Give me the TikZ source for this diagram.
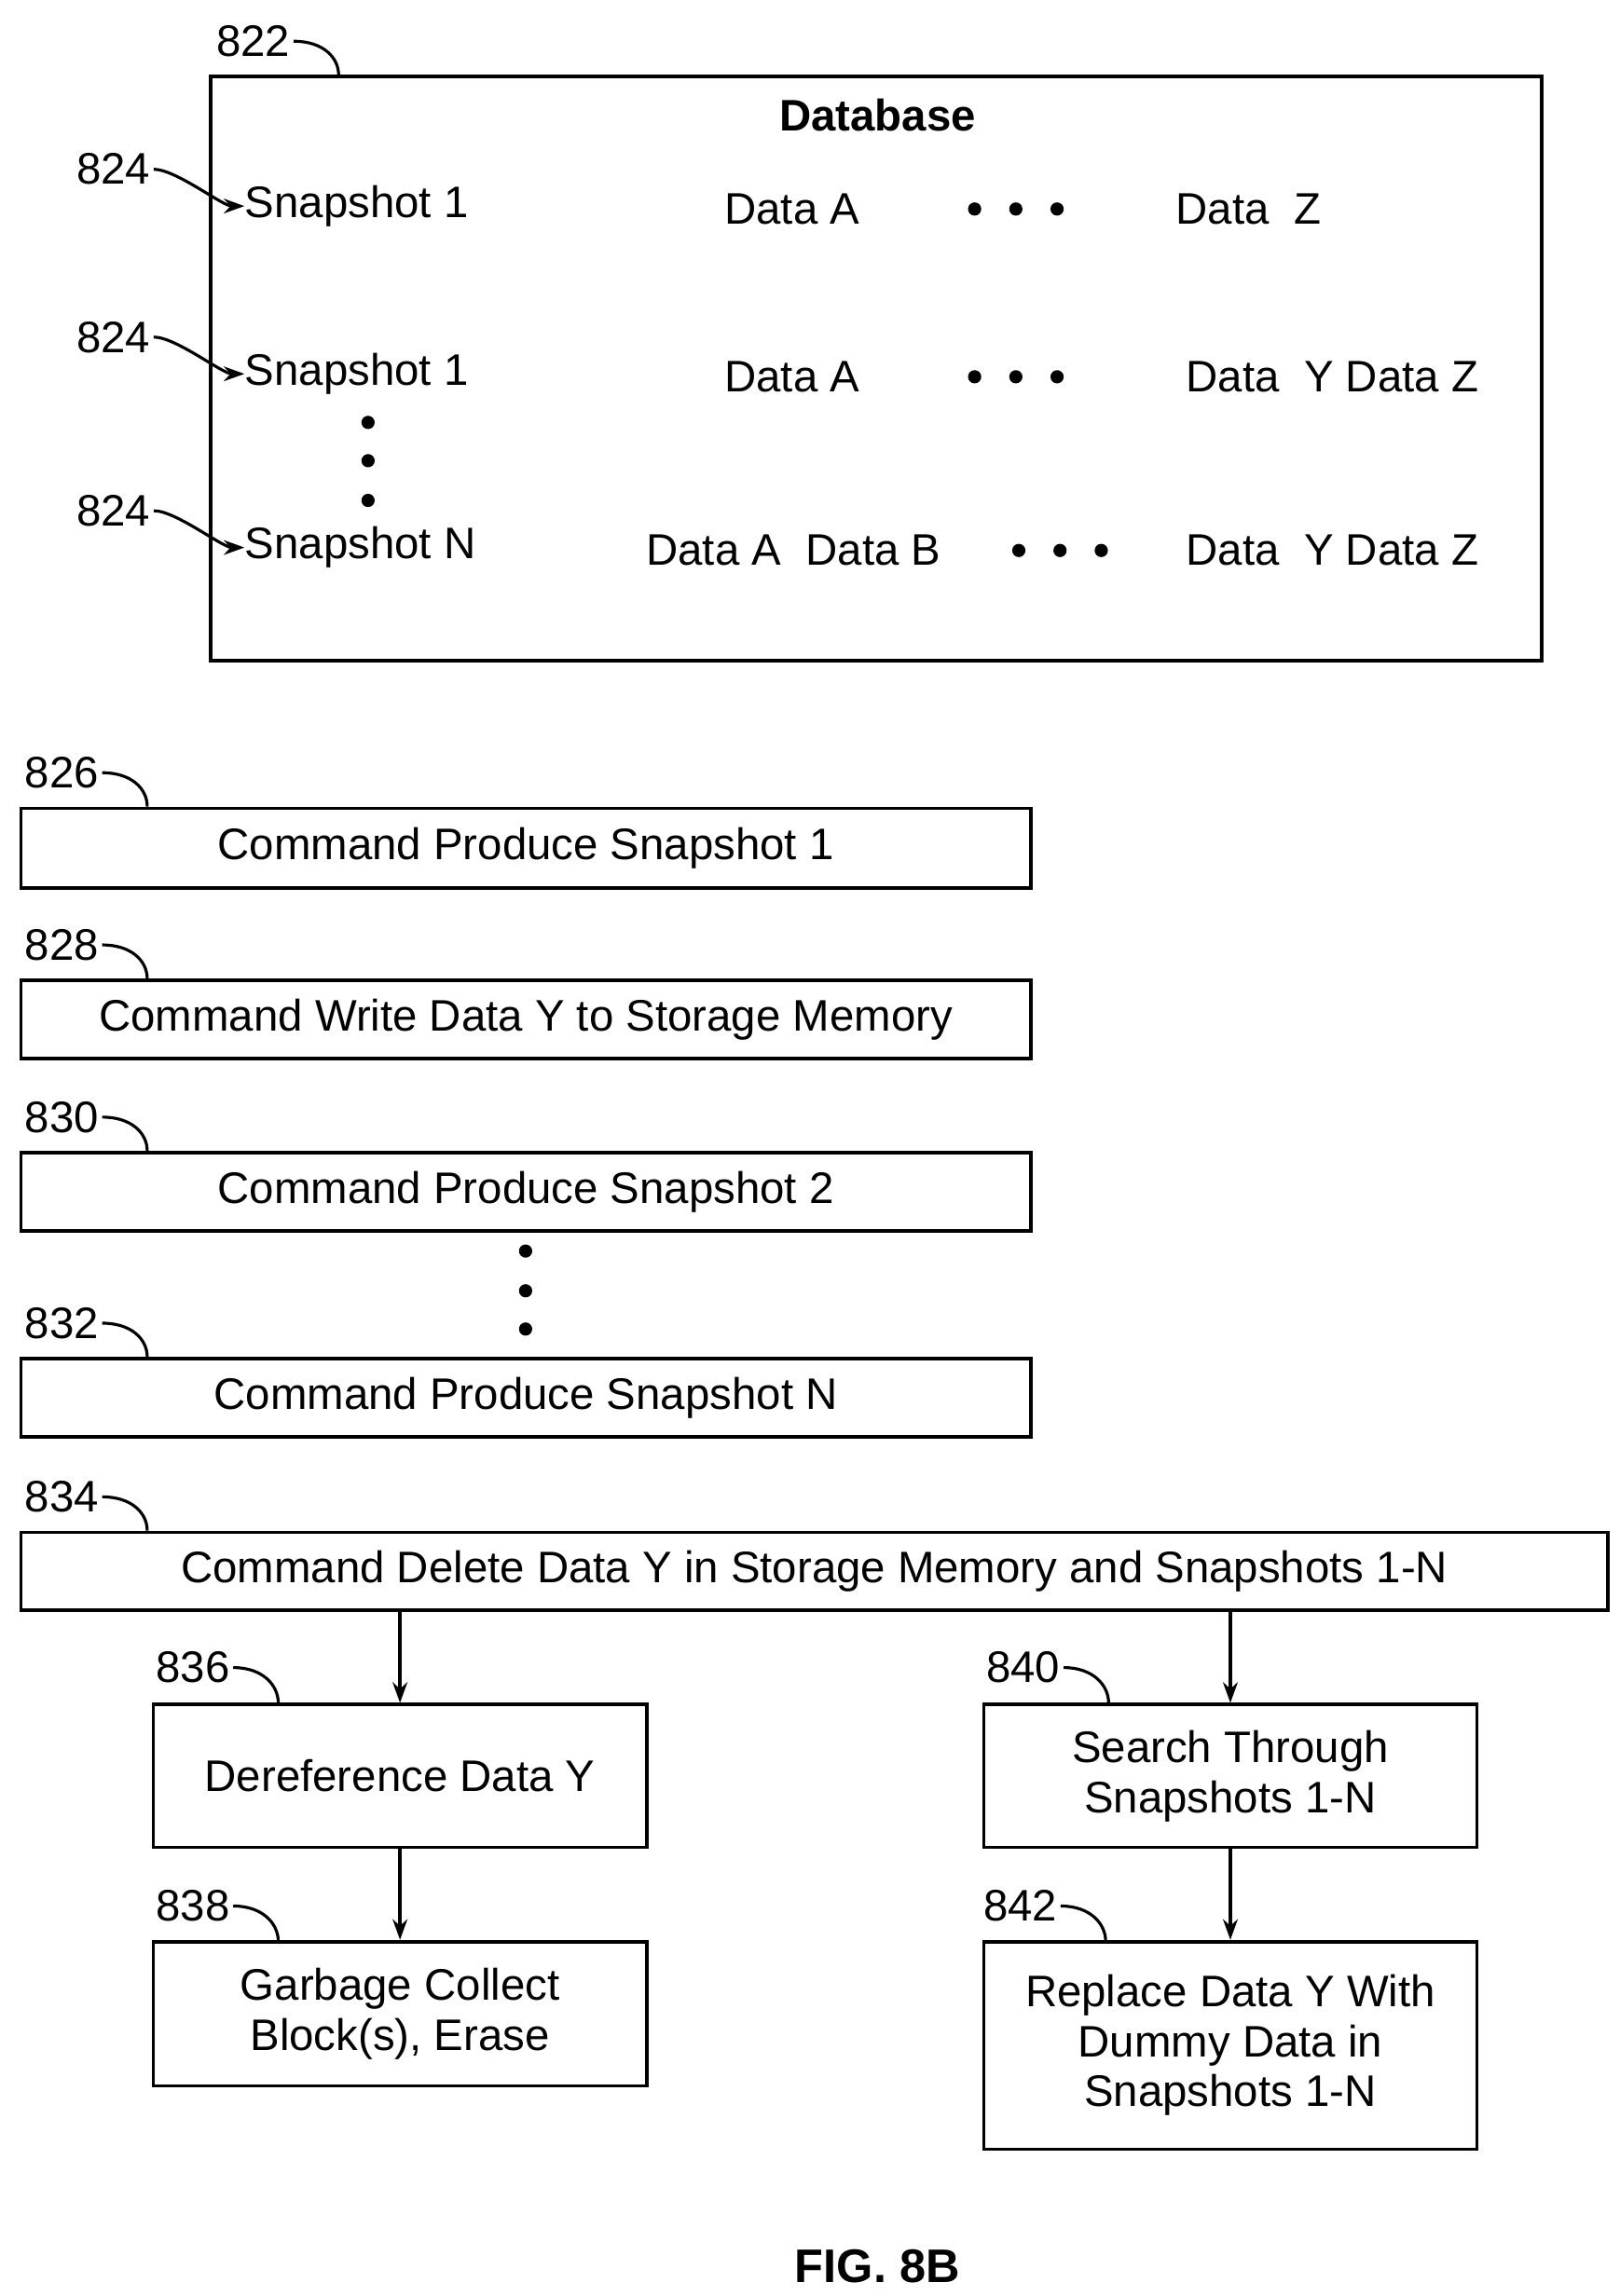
\documentclass[tikz,border=0pt]{standalone}
\usepackage{fontspec}
\usetikzlibrary{arrows.meta}
\setmainfont{Liberation Sans}
\begin{document}
\begin{tikzpicture}[x=0.5pt,y=-0.5pt,
  txt/.style={font=\fontsize{15}{16}\selectfont,inner sep=0pt},
  lbl/.style={font=\fontsize{15}{16}\selectfont,inner sep=1pt},
  box/.style={draw,line width=1.2pt},
  arr/.style={draw,line width=1.1pt,-{Stealth[length=7pt,width=5pt]}},
  hook/.style={draw,line width=1pt},
  dot/.style={fill,circle,inner sep=0pt,minimum size=4.5pt}]
\useasboundingbox (0,0) rectangle (1100,1560);
% database
\draw[box] (143,52) rectangle (1047,449);
\node[txt,font=\fontsize{15}{16}\selectfont\bfseries] (db) at (596,78) {Database};
\node[lbl] (l822) at (172,28) {822};
\coordinate (c822) at (230,51);
\draw[hook] (l822.east) .. controls +(20,0) and +(0,-12) .. (c822);
\foreach \i/\y/\s in {1/140/Snapshot 1,2/254/Snapshot 1,3/372/Snapshot N}{
  \node[txt,anchor=west] (s\i) at (166,\y) {\s};
  \node[lbl] (l824\i) at (77,\y-25) {824};
  \draw[hook,-{Stealth[length=7pt,width=5pt]}] (l824\i.east) .. controls +(15,0) and +(-15,0) .. (s\i.west);
}
\node[txt] (a1) at (538,142) {Data A};
\node[txt] (z1) at (848,142) {Data\ \ Z};
\node[txt] (a2) at (538,256) {Data A};
\node[txt] (yz2) at (905,256) {Data\ \ Y\ Data Z};
\node[txt] (ab3) at (539,374) {Data A\ \ Data B};
\node[txt] (yz3) at (905,374) {Data\ \ Y\ Data Z};
\foreach \x/\y in {662/142,690/142,718/142,662/256,690/256,718/256,692/374,720/374,748/374,250/287,250/313,250/340,357/850,357/877,357/903}
  \node[dot] at (\x,\y) {};
% command boxes
\foreach \n/\t/\b/\s in {826/548/602/Command Produce Snapshot 1,828/665/718/Command Write Data Y to Storage Memory,830/782/835/Command Produce Snapshot 2,832/922/975/Command Produce Snapshot N}{
  \node[box,txt,minimum width=343pt,minimum height={(\b-\t)*0.5pt},anchor=north west] (b\n) at (13,\t) {\s};
  \node[lbl] (l\n) at (42,\t-23) {\n};
  \draw[hook] (l\n.east) .. controls +(20,0) and +(0,-12) .. (100,\t);
}
\node[box,txt,minimum width=539pt,minimum height=26.5pt,anchor=north west] (b834) at (13,1040) {Command Delete Data Y in Storage Memory and Snapshots 1-N};
\node[lbl] (l834) at (42,1017) {834};
\draw[hook] (l834.east) .. controls +(20,0) and +(0,-12) .. (100,1040);
% lower boxes
\tikzset{sb/.style={box,txt,minimum width=167.5pt,align=center,anchor=north west,font=\fontsize{15}{17}\selectfont}}
\node[sb,minimum height=48.5pt] (b836) at (103,1157) {Dereference Data Y};
\node[sb,minimum height=49pt] (b838) at (103,1318) {Garbage Collect\\Block(s), Erase};
\node[sb,minimum height=48.5pt] (b840) at (667,1157) {Search Through\\Snapshots 1-N};
\node[sb,minimum height=70.5pt] (b842) at (667,1318) {Replace Data Y With\\Dummy Data in\\Snapshots 1-N};
\foreach \n/\x/\y in {836/131/1133,838/131/1295,840/695/1133,842/693/1295}{
  \node[lbl] (l\n) at (\x,\y) {\n};
  \draw[hook] (l\n.east) .. controls +(20,0) and +(0,-12) .. (\x+58,\y+24);
}
\draw[arr] (b834.south -| b836.north) -- (b836.north);
\draw[arr] (b836.south) -- (b838.north);
\draw[arr] (b834.south -| b840.north) -- (b840.north);
\draw[arr] (b840.south) -- (b842.north);
\node[txt,font=\fontsize{16}{17}\selectfont\bfseries] (fig) at (596,1540) {FIG. 8B};
\end{tikzpicture}
\end{document}
